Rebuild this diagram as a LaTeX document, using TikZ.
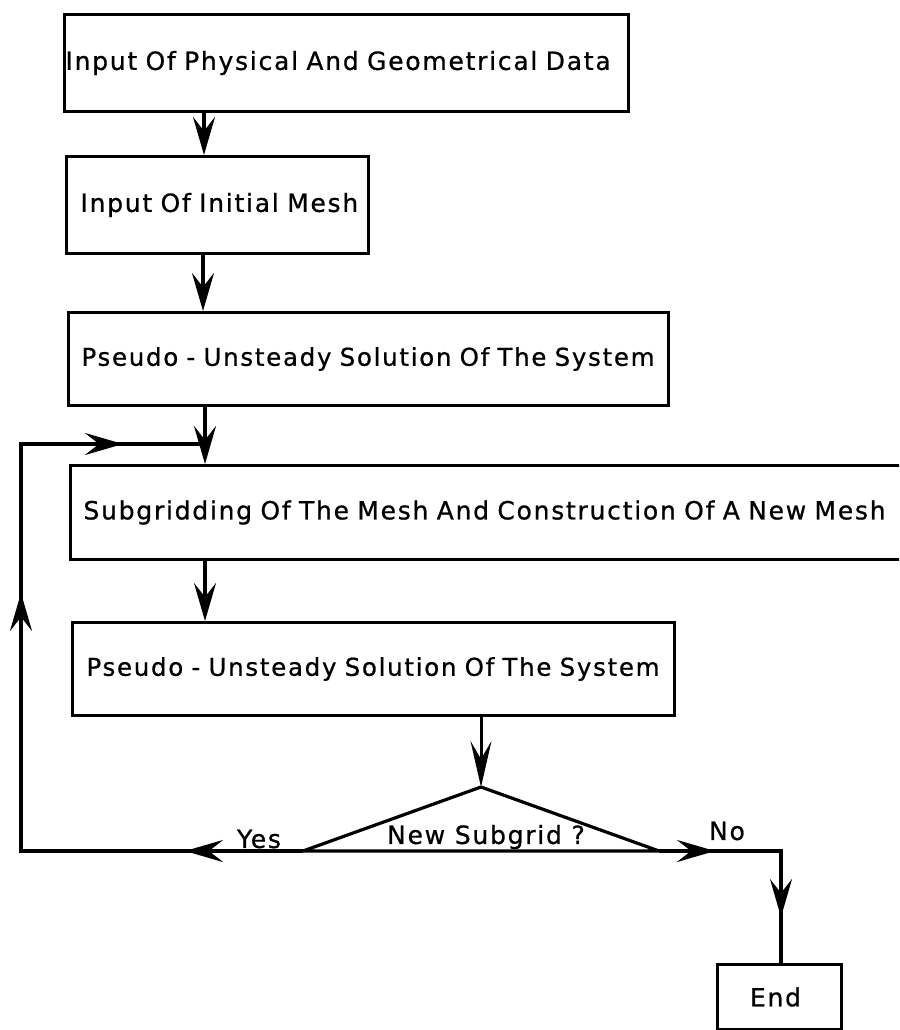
\documentclass[tikz,border=0pt]{standalone}
\usepackage{fontspec}
\setmainfont{DejaVu Sans}[FakeBold=0.8]
\newfontfamily\boxfont{DejaVu Sans}[LetterSpace=7,FakeBold=0.8]
\newfontfamily\lblfont{DejaVu Sans}[LetterSpace=7,FakeBold=0.8]
\usetikzlibrary{arrows.meta,decorations.markings}
\tikzset{mytip/.tip={Stealth[length=38pt,width=22pt,inset=14pt]},
  thintip/.tip={Stealth[length=46pt,width=21pt,inset=18pt]}}
\begin{document}
\begin{tikzpicture}[x=1pt,y=-1pt,
  boxnode/.style={draw, line width=3pt, anchor=north west, align=left,
    font=\boxfont\fontsize{25}{30}\selectfont, inner ysep=0pt},
  smallertext/.style={font=\boxfont\fontsize{24.5}{30}\selectfont},
  flow/.style={line width=3.6pt},
  tipend/.style={-mytip},
  lbl/.style={font=\lblfont\fontsize{25}{30}\selectfont, inner sep=0pt}]
\clip (0,0) rectangle (899,1030);
\fill[white] (0,0) rectangle (899,1030);

% process boxes
\node[boxnode, text width=562pt, inner xsep=1pt, minimum height=97pt] (b1) at (63,13)
  {\mbox{Input Of Physical And Geometrical Data}};
\node[boxnode, text width=274pt, inner xsep=14pt, minimum height=97pt] (b2) at (65,155)
  {\mbox{Input Of Initial Mesh}};
\node[boxnode, smallertext, text width=574pt, inner xsep=13pt, minimum height=93pt] (b3) at (67,311)
  {\mbox{Pseudo - Unsteady Solution Of The System}};
\node[boxnode, text width=824pt, inner xsep=13pt, minimum height=94pt] (b4) at (69,464)
  {\mbox{Subgridding Of The Mesh And Construction Of A New Mesh}};
\node[boxnode, smallertext, text width=574pt, inner xsep=14pt, minimum height=93pt] (b5) at (71,621)
  {\mbox{Pseudo - Unsteady Solution Of The System}};
\node[draw, line width=3pt, anchor=north west, minimum width=124pt, minimum height=65pt,
  font=\lblfont\fontsize{25}{30}\selectfont] (endb) at (716,963) {\hspace*{-8pt}End};

% decision triangle
\coordinate (apex) at (481,787);
\coordinate (bl) at (303,851);
\coordinate (br) at (659,851);
\draw[line width=3.2pt, line join=round] (bl) -- (apex) -- (br) -- cycle;
\node[lbl] (q) at (486,837) {New Subgrid ?};
\node[lbl] (yes) at (259,839) {Yes};
\node[lbl] (no) at (727,831) {No};

% columns and corners
\coordinate (c1) at (204,0);
\coordinate (c2) at (203,0);
\coordinate (c3) at (205,0);
\coordinate (c5) at (481,0);
\coordinate (yl) at (21,851);
\coordinate (tl) at (21,444);
\coordinate (j) at (205,444);
\coordinate (nr) at (781,851);

% straight flow
\draw[flow,tipend] (b1.south -| c1) -- (b2.north -| c1);
\draw[flow,tipend] (b2.south -| c2) -- (b3.north -| c2);
\draw[flow,tipend] (b3.south -| c3) -- (b4.north -| c3);
\draw[flow,tipend] (b4.south -| c3) -- (b5.north -| c3);
\draw[line width=3pt, -thintip] (b5.south -| c5) -- (apex);

% yes loop
\draw[flow, line join=miter, postaction={decorate},
  decoration={markings,
    mark=at position 118pt with {\arrow{mytip}},
    mark=at position 540pt with {\arrow{mytip}},
    mark=at position 791pt with {\arrow{mytip}}}]
  (bl) -- (yl) -- (tl) -- (j);

% no branch
\draw[flow, line join=miter, postaction={decorate},
  decoration={markings,
    mark=at position 56pt with {\arrow{mytip}},
    mark=at position 188pt with {\arrow{mytip}}}]
  (br) -- (nr) -- (endb.north -| nr);
\end{tikzpicture}
\end{document}
